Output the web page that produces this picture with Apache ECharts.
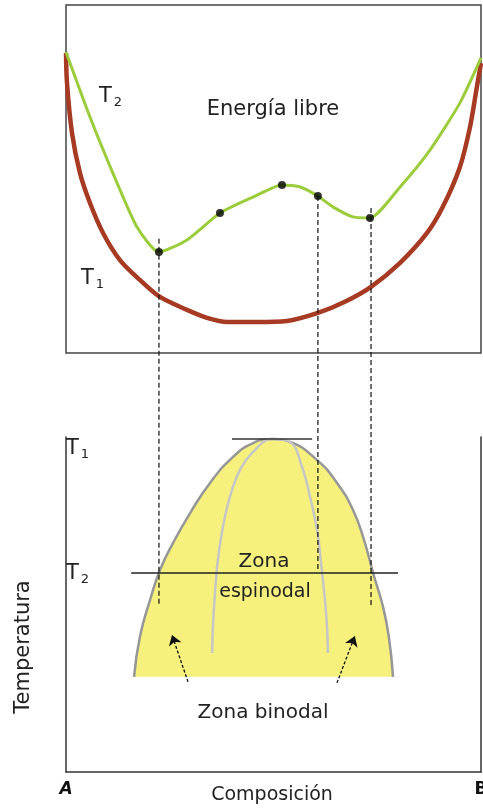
<!DOCTYPE html>
<html>
<head>
<meta charset="utf-8">
<script src="https://cdn.jsdelivr.net/npm/echarts@6/dist/echarts.min.js"></script>
<style>
html,body{margin:0;padding:0;background:#fff;}
#c{width:483px;height:809px;}
</style>
</head>
<body>
<div id="c"></div>
<script>
// ---- Data: composition (A=0 .. B=1), free energy (arbitrary), temperature (arbitrary)
var energyT1Comp = [0, 0.0024, 0.0145, 0.0337, 0.0578, 0.0892, 0.130, 0.178, 0.2265, 0.2916, 0.340, 0.388, 0.460, 0.5325, 0.607, 0.672, 0.735, 0.805, 0.870, 0.908, 0.949, 0.9735, 0.990, 1.0];
var energyT1 = [86.2, 77.6, 63.2, 51.7, 43.1, 34.5, 26.7, 21.0, 16.1, 12.4, 10.1, 8.9, 8.9, 9.2, 11.5, 14.7, 19.0, 25.9, 34.5, 42.0, 53.4, 64.9, 76.4, 83.3];

var energyT2Comp = [0, 0.0578, 0.113, 0.171, 0.224, 0.2916, 0.371, 0.4506, 0.5205, 0.564, 0.607, 0.643, 0.6916, 0.7325, 0.805, 0.877, 0.949, 1.0];
var energyT2 = [86.5, 67.8, 51.7, 36.2, 29.0, 32.5, 40.2, 44.8, 48.3, 47.7, 45.1, 42.0, 39.1, 38.8, 47.7, 58.3, 71.8, 84.8];

var markerComp = [0.224, 0.371, 0.5205, 0.607, 0.7325];
var markerEnergy = [29.0, 40.2, 48.3, 45.1, 38.8];

var binodalComp = [0.164, 0.178, 0.2024, 0.2265, 0.258, 0.299, 0.347, 0.402, 0.4506, 0.496, 0.540, 0.605, 0.653, 0.6916, 0.718, 0.740, 0.764, 0.778, 0.788];
var binodalTemp = [28.4, 40.3, 51.3, 60.3, 68.4, 77.3, 86.3, 94.0, 98.2, 99.4, 98.5, 93.1, 86.3, 78.2, 69.3, 59.4, 49.3, 40.3, 28.4];

var spinodalComp = [0.352, 0.354, 0.359, 0.366, 0.378, 0.395, 0.419, 0.4506, 0.496, 0.540, 0.569, 0.588, 0.605, 0.6145, 0.624, 0.629, 0.631];
var spinodalTemp = [35.5, 43.3, 53.4, 63.3, 73.1, 82.1, 90.1, 95.5, 99.4, 98.5, 91.0, 82.1, 72.2, 62.4, 51.3, 43.3, 35.5];

var tempT1 = 99.4, tempT2 = 59.4;
var lineT1Comp = [0.40, 0.593];
var lineT2Comp = [0.157, 0.80];

var connectorComp = [0.224, 0.607, 0.735];
var connectorTopEnergy = [32.8, 45.1, 41.7];
var connectorBottomTemp = [49.9, 60.3, 49.3];

var arrowFromComp = [0.294, 0.653];
var arrowFromTemp = [26.9, 26.6];
var arrowToComp = [0.2554, 0.696];
var arrowToTemp = [40.9, 40.6];

var axisEndLabels = ['A', 'B'];

function zip(a, b) { return a.map(function (v, i) { return [v, b[i]]; }); }

var FONT = 'DejaVu Sans';
var chart = echarts.init(document.getElementById('c'), null, {renderer: 'canvas'});

var option = {
  animation: false,
  backgroundColor: '#ffffff',
  grid: [
    {left: 66, right: 2, top: 5, bottom: 456, show: true, borderColor: '#444', borderWidth: 1.5, backgroundColor: 'transparent',
      containLabel: false, outerBoundsMode: 'none'},
    {left: 66, right: 2, top: 437, bottom: 37, containLabel: false, outerBoundsMode: 'none'}
  ],
  xAxis: [
    {gridIndex: 0, type: 'value', min: 0, max: 1, show: false},
    {gridIndex: 1, type: 'value', min: 0, max: 1, interval: 1,
      axisLine: {show: true, lineStyle: {color: '#333', width: 1.5}},
      axisTick: {show: false}, splitLine: {show: false},
      axisLabel: {margin: 9, formatter: function (v) { return v === 0 ? '{a|' + axisEndLabels[0] + '}' : '{b|' + axisEndLabels[1] + '}'; },
        rich: {a: {fontFamily: FONT, fontSize: 17, fontWeight: 'bold', fontStyle: 'italic', color: '#111'},
               b: {fontFamily: FONT, fontSize: 17, fontWeight: 'bold', color: '#111'}}}
    }
  ],
  yAxis: [
    {gridIndex: 0, type: 'value', min: 0, max: 100, show: false},
    {gridIndex: 1, type: 'value', min: 0, max: 100,
      axisLine: {show: true, onZero: false, lineStyle: {color: '#333', width: 1.5}},
      axisTick: {show: false}, splitLine: {show: false}, axisLabel: {show: false}},
    {gridIndex: 1, type: 'value', min: 0, max: 100, position: 'right',
      axisLine: {show: true, onZero: false, lineStyle: {color: '#333', width: 1.5}},
      axisTick: {show: false}, splitLine: {show: false}, axisLabel: {show: false}}
  ],
  series: [
    {type: 'line', name: 'T1', xAxisIndex: 0, yAxisIndex: 0, data: zip(energyT1Comp, energyT1),
      smooth: 0.3, showSymbol: false, lineStyle: {color: '#a63a22', width: 4.5}, z: 3},
    {type: 'line', name: 'T2', xAxisIndex: 0, yAxisIndex: 0, data: zip(energyT2Comp, energyT2),
      smooth: 0.2, showSymbol: false, lineStyle: {color: '#9ccc3c', width: 3}, z: 4},
    {type: 'scatter', xAxisIndex: 0, yAxisIndex: 0, data: zip(markerComp, markerEnergy),
      symbolSize: 8, itemStyle: {color: '#000'}, z: 6},
    {type: 'line', name: 'binodal', xAxisIndex: 1, yAxisIndex: 1, data: zip(binodalComp, binodalTemp),
      smooth: 0.5, showSymbol: false, lineStyle: {color: '#979797', width: 2.5},
      areaStyle: {color: '#f6f07c', opacity: 1, origin: binodalTemp[0]}, z: 2},
    {type: 'line', name: 'espinodal', xAxisIndex: 1, yAxisIndex: 1, data: zip(spinodalComp, spinodalTemp),
      smooth: 0.4, showSymbol: false, lineStyle: {color: '#c6c6c6', width: 2.5}, z: 3},
    {type: 'line', xAxisIndex: 1, yAxisIndex: 1, data: [[lineT1Comp[0], tempT1], [lineT1Comp[1], tempT1]],
      showSymbol: false, lineStyle: {color: '#333', width: 1.5}, z: 5},
    {type: 'line', xAxisIndex: 1, yAxisIndex: 1, data: [[lineT2Comp[0], tempT2], [lineT2Comp[1], tempT2]],
      showSymbol: false, lineStyle: {color: '#222', width: 1.5}, z: 5},
    {type: 'lines', coordinateSystem: 'cartesian2d', xAxisIndex: 1, yAxisIndex: 1,
      data: arrowFromComp.map(function (c, i) { return {coords: [[c, arrowFromTemp[i]], [arrowToComp[i], arrowToTemp[i]]]}; }),
      symbol: ['none', 'arrow'], symbolSize: 10,
      lineStyle: {color: '#111', width: 1.3, type: [3, 2], opacity: 1}, z: 6}
  ]
};
chart.setOption(option);

// dashed connectors from energy curve (top panel) down to the phase diagram (bottom panel)
var graphics = [];
connectorComp.forEach(function (c, i) {
  var p1 = chart.convertToPixel({xAxisIndex: 0, yAxisIndex: 0}, [c, connectorTopEnergy[i]]);
  var p2 = chart.convertToPixel({xAxisIndex: 1, yAxisIndex: 1}, [c, connectorBottomTemp[i]]);
  graphics.push({type: 'line', z: 100, shape: {x1: p1[0], y1: p1[1], x2: p2[0], y2: p2[1]},
    style: {stroke: '#111', lineWidth: 1.2, lineDash: [5, 3]}});
});

function tText(x, y, sub) {
  return {type: 'text', z: 100, left: x, top: y,
    style: {text: '{t|T}{s|' + sub + '}', rich: {
      t: {fontFamily: FONT, fontSize: 21, fill: '#222', lineHeight: 24},
      s: {fontFamily: FONT, fontSize: 13, fill: '#222', lineHeight: 24, padding: [12, 0, 0, 2]}}}};
}
function label(text, x, y, size, rot) {
  return {type: 'text', z: 100, x: x, y: y, rotation: rot || 0,
    style: {text: text, fontFamily: FONT, fontSize: size, fill: '#222', align: 'center', verticalAlign: 'middle'}};
}
graphics.push(label('Energía libre', 273, 110, 21));
graphics.push(tText(99, 84, '2'));
graphics.push(tText(81, 266, '1'));
graphics.push(tText(66, 436, '1'));
graphics.push(tText(66, 561, '2'));
graphics.push(label('Zona', 264, 562, 20));
graphics.push(label('espinodal', 265, 592, 19));
graphics.push(label('Zona binodal', 263, 713, 20));
graphics.push(label('Temperatura', 24, 647, 21, Math.PI / 2));
graphics.push(label('Composición', 272, 795, 19));
chart.setOption({graphic: graphics});
</script>
</body>
</html>
